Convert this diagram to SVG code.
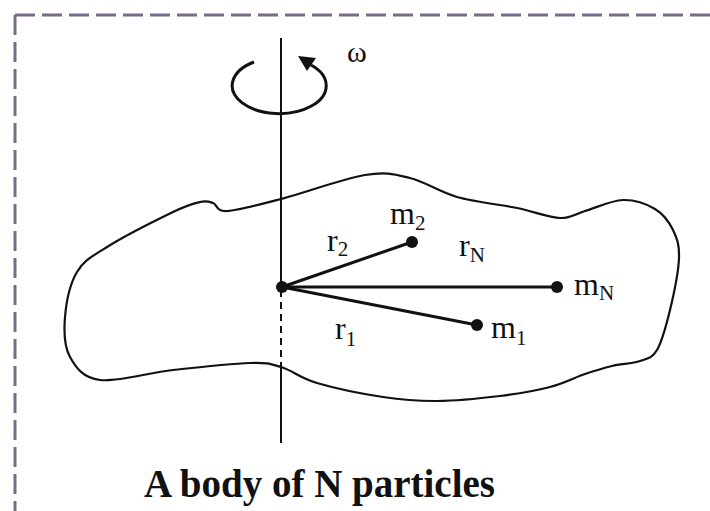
<svg xmlns="http://www.w3.org/2000/svg" width="710" height="511" viewBox="0 0 710 511">
<style>
.lbl{font-family:"Liberation Serif","Times New Roman",serif;font-size:32px;fill:#111}
.sub{font-size:21px}
.title{font-family:"Liberation Serif","Times New Roman",serif;font-size:39px;font-weight:bold;fill:#111}
.rod{stroke:#111;stroke-width:3;fill:none;stroke-linecap:round}
.axis{stroke:#111;stroke-width:2;fill:none}
.dot{fill:#111}
</style>
<rect width="710" height="511" fill="#fff"/>
<g id="frame" fill="none" stroke="#7b6b88" stroke-width="3" stroke-dasharray="20 7">
<line x1="15" y1="15" x2="710" y2="15"/>
<line x1="15" y1="15" x2="15" y2="511"/>
</g>
<g id="body">
<path d="M65,317 C66.2,302.8 70,283.7 77,272 C84,260.3 91,257 107,247 C123,237 157.5,219.5 173,212 C188.5,204.5 193.3,203.5 200,202 C206.7,200.5 208.5,201.5 213,203 C217.5,204.5 215.7,211.7 227,211 C238.3,210.3 258,205 281,199 C304,193 343.5,178.5 365,175 C386.5,171.5 394.7,174.3 410,178 C425.3,181.7 439.2,192 457,197 C474.8,202 499.8,204.5 517,208 C534.2,211.5 548.7,217.5 560,218 C571.3,218.5 574.5,214 585,211 C595.5,208 611.3,200.3 623,200 C634.7,199.7 646.7,204 655,209 C663.3,214 669,221.8 673,230 C677,238.2 679.5,244.7 679,258 C678.5,271.3 673.7,294.7 670,310 C666.3,325.3 662,341.5 657,350 C652,358.5 647.5,358.3 640,361 C632.5,363.7 621.2,363.8 612,366 C602.8,368.2 595.3,370.5 585,374 C574.7,377.5 564.2,383.3 550,387 C535.8,390.7 518.8,393.7 500,396 C481.2,398.3 456.5,400.8 437,401 C417.5,401.2 403,400 383,397 C363,394 334,388 317,383 C300,378 292.2,370.3 281,367 C269.8,363.7 268,362.5 250,363 C232,363.5 198,367.2 173,370 C148,372.8 117.2,382.2 100,380 C82.8,377.8 75.8,367.5 70,357 C64.2,346.5 63.8,331.2 65,317 Z" fill="none" stroke="#111" stroke-width="2.2"/>
</g>
<g id="axis">
<line class="axis" x1="281" y1="38" x2="281" y2="288"/>
<line class="axis" x1="281" y1="290" x2="281" y2="367" stroke-dasharray="7 5" stroke-width="2.5"/>
<line class="axis" x1="281" y1="367" x2="281" y2="443"/>
</g>
<g id="rotation">
<path d="M254,62 A47 28 0 1 0 311,65" fill="none" stroke="#111" stroke-width="3"/>
<polygon points="298,56 316,58 307,71" fill="#111"/>
<text class="lbl" x="347" y="62" style="font-size:30px">ω</text>
</g>
<g id="connectors">
<line class="rod" x1="282" y1="287" x2="412" y2="242"/>
<line class="rod" x1="282" y1="287" x2="557" y2="287"/>
<line class="rod" x1="282" y1="287" x2="477" y2="325"/>
</g>
<g id="pivot"><circle class="dot" cx="282" cy="287" r="6"/></g>
<g id="m2"><circle class="dot" cx="412" cy="242" r="6"/>
<text class="lbl" x="390" y="224">m<tspan class="sub" dy="6">2</tspan></text></g>
<g id="mN"><circle class="dot" cx="557" cy="287" r="6"/>
<text class="lbl" x="574" y="295">m<tspan class="sub" dy="5">N</tspan></text></g>
<g id="m1"><circle class="dot" cx="477" cy="325" r="6"/>
<text class="lbl" x="491" y="338">m<tspan class="sub" dy="7">1</tspan></text></g>
<g id="r2"><text class="lbl" x="327" y="251">r<tspan class="sub" dy="5">2</tspan></text></g>
<g id="rN"><text class="lbl" x="459" y="256">r<tspan class="sub" dy="6">N</tspan></text></g>
<g id="r1"><text class="lbl" x="335" y="339">r<tspan class="sub" dy="7">1</tspan></text></g>
<g id="caption"><text class="title" x="144" y="497">A body of N particles</text></g>
</svg>
